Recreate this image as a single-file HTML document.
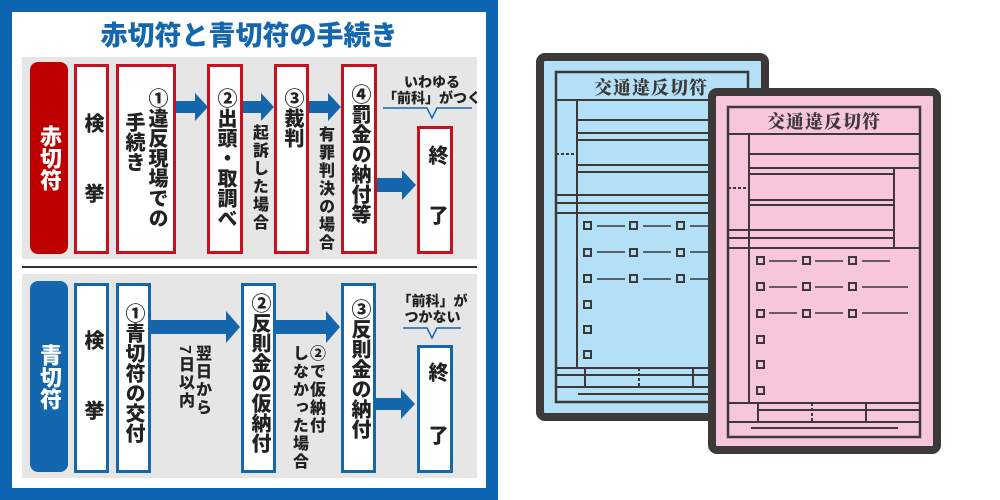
<!DOCTYPE html>
<html><head><meta charset="utf-8"><style>
*{margin:0;padding:0;box-sizing:border-box}
body{width:1000px;height:500px;background:#fff;position:relative;overflow:hidden;font-family:"Liberation Sans","Noto Sans CJK JP",sans-serif;font-weight:bold}
.a{position:absolute}
.v{writing-mode:vertical-rl;font-size:20px;line-height:22px;color:#222;font-weight:900;white-space:nowrap}
.box{position:absolute;background:#fff;border:3px solid #c8101e}
.bb{border-color:#1466ad}
.lbl{position:absolute;border-radius:8px;color:#fff;writing-mode:vertical-rl;font-size:22px;display:flex;align-items:center;justify-content:center;font-weight:900}
.sm{writing-mode:vertical-rl;font-size:16px;line-height:17px;letter-spacing:2px;color:#222;font-weight:900;position:absolute;white-space:nowrap}
.note{position:absolute;font-size:14px;line-height:16px;text-align:center;color:#222;font-weight:900;white-space:nowrap}
</style></head><body>
<div class="a" style="left:0;top:0;width:498px;height:500px;background:#0d64b0"></div>
<div class="a" style="left:12px;top:12px;width:474px;height:476px;background:#fff"></div>
<div class="a" style="left:12px;top:18px;width:474px;text-align:center;color:#1466ad;font-size:27px;font-weight:900;line-height:36px">赤切符と青切符の手続き</div>
<div class="a" style="left:22px;top:57px;width:455px;height:202px;background:#e6e6e6"></div>
<div class="a" style="left:22px;top:266px;width:455px;height:2px;background:#333"></div>
<div class="a" style="left:22px;top:274px;width:455px;height:204px;background:#e6e6e6"></div>

<div class="lbl" style="left:30px;top:62px;width:38px;height:192px;background:#bf0000">赤切符</div>
<div class="lbl" style="left:30px;top:281px;width:38px;height:191px;background:#1466ad">青切符</div>

<svg class="a" style="left:0;top:0" width="500" height="500">
<g fill="#1466ad">
<path d="M175 101h20v-8l13 14-13 14v-8h-20z"/>
<path d="M242 101h19v-8l13 14-13 14v-8h-19z"/>
<path d="M308 101h20v-8l13 14-13 14v-8h-20z"/>
<path d="M376 178h26v-8l14 15-14 15v-8h-26z"/>
<path d="M150 320h76v-9l14 16-14 16v-9h-76z"/>
<path d="M275 320h51v-9l14 16-14 16v-9h-51z"/>
<path d="M375 398h26v-9l14 15-14 15v-9h-26z"/>
</g>
<g fill="none" stroke="#1466ad" stroke-width="1.5">
<path d="M383 108h44l5 10 5-10h35"/>
<path d="M403 328h24l5 10 5-10h24"/>
</g>
</svg>

<!-- red row boxes -->
<div class="box" style="left:74px;top:64px;width:35px;height:190px"></div>
<div class="v a" style="left:81px;top:113px">検</div>
<div class="v a" style="left:81px;top:183px">挙</div>
<div class="box" style="left:116px;top:64px;width:60px;height:190px"></div>
<div class="v a" style="left:145px;top:88px">①違反現場での</div>
<div class="v a" style="left:122px;top:112px">手続き</div>
<div class="box" style="left:207px;top:64px;width:36px;height:190px"></div>
<div class="v a" style="left:214px;top:88px">②出頭・取調べ</div>
<div class="box" style="left:274px;top:64px;width:35px;height:190px"></div>
<div class="v a" style="left:281px;top:88px">③裁判</div>
<div class="box" style="left:341px;top:64px;width:36px;height:190px"></div>
<div class="v a" style="left:348px;top:84px">④罰金の納付等</div>
<div class="box" style="left:417px;top:126px;width:36px;height:128px"></div>
<div class="v a" style="left:425px;top:145px">終</div>
<div class="v a" style="left:425px;top:205px">了</div>
<div class="sm" style="left:250px;top:124px">起訴した場合</div>
<div class="sm" style="left:316px;top:126px">有罪判決の場合</div>
<div class="note" style="left:377px;top:74px;width:110px">いわゆる<br>「前科」がつく</div>

<!-- blue row -->
<div class="box bb" style="left:74px;top:283px;width:35px;height:190px"></div>
<div class="v a" style="left:81px;top:330px">検</div>
<div class="v a" style="left:81px;top:400px">挙</div>
<div class="box bb" style="left:116px;top:283px;width:35px;height:190px"></div>
<div class="v a" style="left:122px;top:303px">①青切符の交付</div>
<div class="box bb" style="left:241px;top:283px;width:35px;height:190px"></div>
<div class="v a" style="left:248px;top:293px">②反則金の仮納付</div>
<div class="box bb" style="left:341px;top:283px;width:35px;height:190px"></div>
<div class="v a" style="left:348px;top:299px">③反則金の納付</div>
<div class="box bb" style="left:417px;top:345px;width:36px;height:128px"></div>
<div class="v a" style="left:425px;top:362px">終</div>
<div class="v a" style="left:425px;top:425px">了</div>
<div class="sm" style="left:176px;top:345px">翌日から<br>7日以内</div>
<div class="sm" style="left:290px;top:345px">②で仮納付<br>しなかった場合</div>
<div class="note" style="left:390px;top:293px;width:85px">「前科」が<br>つかない</div>

<svg class="a" style="left:0;top:0" width="1000" height="500">
<g stroke="#3d3939" fill="none">
<rect x="540" y="57" width="225" height="360" rx="5" fill="#b3e0f7" stroke-width="8"/>
<rect x="556" y="72" width="192" height="330" stroke-width="2.5"/>
<g stroke-width="2">
<path d="M556 100h192M577 100v268M577 120h171M577 133h171M577 140h171M577 165h171M577 172h171M556 195h192M556 203h192M556 213h192M556 368h192M556 375h192M556 387h192M585 368v19M693 368v19M578 394h170"/>
<path d="M556 154h20M639 368v19" stroke-dasharray="3 2"/>
<rect x="584" y="222" width="7" height="7"/><rect x="630" y="222" width="7" height="7"/><rect x="677" y="222" width="7" height="7"/>
<rect x="584" y="249" width="7" height="7"/><rect x="630" y="249" width="7" height="7"/><rect x="677" y="249" width="7" height="7"/>
<rect x="584" y="275" width="7" height="7"/><rect x="630" y="275" width="7" height="7"/><rect x="677" y="275" width="7" height="7"/>
<rect x="584" y="301" width="7" height="7"/><rect x="584" y="326" width="7" height="7"/><rect x="584" y="351" width="7" height="7"/>
<path d="M597 226h28M643 226h28M690 226h28M597 252h28M643 252h28M690 252h28M597 279h28M643 279h28M690 279h28" stroke-width="1.5"/>
</g>
<rect x="712" y="92" width="225" height="358" rx="5" fill="#f8c6dc" stroke-width="8"/>
<rect x="728" y="107" width="192" height="330" stroke-width="2.5"/>
<g stroke-width="2">
<path d="M728 134h192M749 134v270M749 154h171M749 168h171M749 174h145M749 200h145M749 205h145M728 230h166M728 238h166M728 248h192M894 168v80M728 403h192M758 410h162M728 422h192M758 403v19M866 403v19M751 428h147"/>
<path d="M728 188h20M812 403v19" stroke-dasharray="3 2"/>
<rect x="757" y="257" width="7" height="7"/><rect x="803" y="257" width="7" height="7"/><rect x="849" y="257" width="7" height="7"/>
<rect x="757" y="283" width="7" height="7"/><rect x="803" y="283" width="7" height="7"/><rect x="849" y="283" width="7" height="7"/>
<rect x="757" y="310" width="7" height="7"/><rect x="803" y="310" width="7" height="7"/><rect x="849" y="310" width="7" height="7"/>
<rect x="757" y="336" width="7" height="7"/><rect x="757" y="361" width="7" height="7"/><rect x="757" y="387" width="7" height="7"/>
<path d="M769 261h28M815 261h28M862 261h28M769 287h28M815 287h28M862 287h46M769 313h28M815 313h28M862 313h46" stroke-width="1.5"/>
</g>
</g>
<text x="651" y="94" font-size="18" fill="#3d3939" text-anchor="middle" font-family="Noto Serif CJK SC,serif" font-weight="900" letter-spacing="1">交通違反切符</text>
<text x="824" y="128" font-size="18" fill="#3d3939" text-anchor="middle" font-family="Noto Serif CJK SC,serif" font-weight="900" letter-spacing="1">交通違反切符</text>
</svg>
</body></html>
